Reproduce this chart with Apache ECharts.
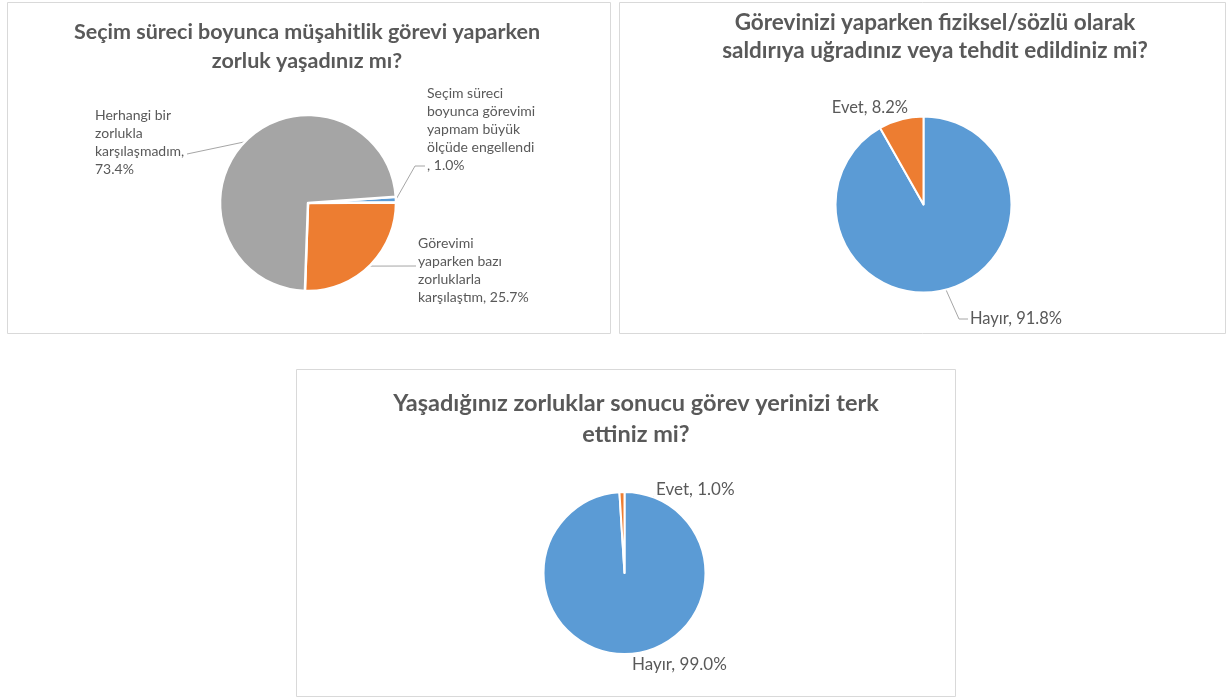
<!DOCTYPE html>
<html>
<head>
<meta charset="utf-8">
<script src="https://cdn.jsdelivr.net/npm/echarts@6/dist/echarts.min.js"></script>
<style>
  html, body { margin: 0; padding: 0; background: #fff; }
  #chart { width: 1227px; height: 698px; }
</style>
</head>
<body>
<div id="chart"></div>
<script>
// veri: üç anket sorusu, yüzde olarak
const titles = [
  'Seçim süreci boyunca müşahitlik görevi yaparken\nzorluk yaşadınız mı?',
  'Görevinizi yaparken fiziksel/sözlü olarak\nsaldırıya uğradınız veya tehdit edildiniz mi?',
  'Yaşadığınız zorluklar sonucu görev yerinizi terk\nettiniz mi?'
];

const categories1 = [
  'Seçim süreci\nboyunca görevimi\nyapmam büyük\nölçüde engellendi',
  'Görevimi\nyaparken bazı\nzorluklarla\nkarşılaştım',
  'Herhangi bir\nzorlukla\nkarşılaşmadım'
];
const values1 = [1.0, 25.7, 73.4];

const categories2 = ['Hayır', 'Evet'];
const values2 = [91.8, 8.2];

const categories3 = ['Hayır', 'Evet'];
const values3 = [99.0, 1.0];

const BLUE = '#5B9BD5', ORANGE = '#ED7D31', GRAY = '#A5A5A5';
const TEXT = '#595959';
const FONT = 'Lato, "Open Sans", sans-serif';

// etiket yerleri (Excel'deki gibi elle)
const spots1 = [
  { x: 427, y: 84, align: 'left', line: [[415, 166], [425, 166]] },
  { x: 418, y: 234, align: 'left', line: [[416, 266]] },
  { x: 95, y: 106, align: 'left', line: [[187, 154]] }
];
const spots2 = [
  { x: 970, y: 310, align: 'left', line: [[959, 319], [968, 319]] },
  { x: 908, y: 99, align: 'right' }
];
const spots3 = [
  { x: 632, y: 656, align: 'left' },
  { x: 656, y: 481, align: 'left', from: [625, 503], line: [[641, 499], [654, 497]] }
];

function placeLabels(spots) {
  return function (params) {
    const s = spots[params.dataIndex];
    const out = { x: s.x, y: s.y, align: s.align, verticalAlign: 'top' };
    if (s.line && params.labelLinePoints) {
      out.labelLinePoints = [s.from || params.labelLinePoints[0]].concat(s.line);
    }
    return out;
  };
}

function buildData(names, values, colors, seps) {
  return names.map(function (name, i) {
    return {
      name: name,
      value: values[i],
      itemStyle: { color: colors[i] },
      label: { formatter: function (p) { return p.name + seps[i] + p.value.toFixed(1) + '%'; } }
    };
  });
}

function pieSeries(center, r, startAngle, data, spots, fontSize, lineHeight, border) {
  return {
    type: 'pie',
    center: center,
    radius: r,
    startAngle: startAngle,
    clockwise: true,
    avoidLabelOverlap: false,
    itemStyle: { borderColor: '#fff', borderWidth: border },
    emphasis: { disabled: true },
    label: { show: true, color: TEXT, fontFamily: FONT, fontSize: fontSize, lineHeight: lineHeight },
    labelLine: { show: true, length: 8, length2: 8, lineStyle: { color: '#A6A6A6', width: 1 } },
    labelLayout: placeLabels(spots),
    data: data
  };
}

const data1 = buildData(categories1, values1, [BLUE, ORANGE, GRAY], ['\n, ', ', ', ',\n']);

const data2 = buildData(categories2, values2, [BLUE, ORANGE], [', ', ', ']);
data2[1].labelLine = { show: false };

const data3 = buildData(categories3, values3, [BLUE, ORANGE], [', ', ', ']);
data3[0].labelLine = { show: false };

function frame(x, y, w, h) {
  return { type: 'rect', shape: { x: x, y: y, width: w, height: h }, style: { fill: 'none', stroke: '#D9D9D9', lineWidth: 1 }, silent: true };
}

function heading(text, x, y, size, lh) {
  return {
    type: 'text', x: x, y: y, silent: true,
    style: { text: text, align: 'center', verticalAlign: 'middle', font: 'bold ' + size + 'px ' + FONT, fill: TEXT, lineHeight: lh }
  };
}

const option = {
  animation: false,
  backgroundColor: '#fff',
  graphic: [
    frame(7.5, 2.5, 603, 331),
    frame(619.5, 2.5, 606, 331),
    frame(296.5, 369.5, 659, 327),
    heading(titles[0], 307, 47, 21.5, 29),
    heading(titles[1], 935, 36.5, 22.5, 28),
    heading(titles[2], 636, 419, 23.5, 31)
  ],
  series: [
    pieSeries([308, 203], 88, 4, data1, spots1, 14, 18, 2.5),
    pieSeries([923.5, 204.5], 88, 90, data2, spots2, 16.5, 18, 2),
    pieSeries([624.5, 573], 81, 90, data3, spots3, 17, 18, 2)
  ]
};

const chart = echarts.init(document.getElementById('chart'));
chart.setOption(option);
</script>
</body>
</html>
